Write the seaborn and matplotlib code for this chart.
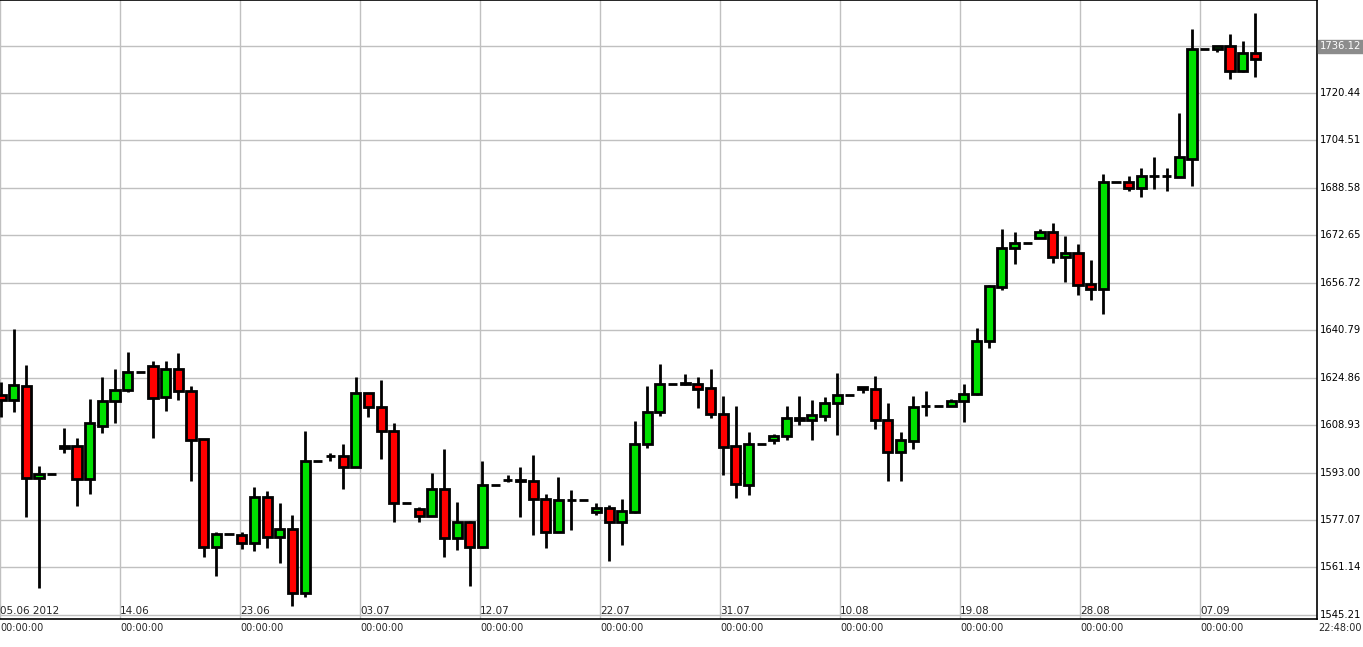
import matplotlib
matplotlib.use("Agg")
import matplotlib.pyplot as plt
import matplotlib.transforms as mtransforms
import numpy as np
import seaborn as sns

# daily OHLC
open_ = [1619.0, 1617.3, 1622.1, 1591.2, 1592.5, 1601.1, 1601.9, 1590.9, 1608.7, 1617.0,
         1620.6, 1626.7, 1628.7, 1618.3, 1627.7, 1620.4, 1604.1, 1568.0, 1572.4, 1571.9,
         1569.3, 1584.7, 1571.4, 1574.1, 1552.5, 1596.9, 1598.4, 1598.6, 1595.0, 1619.8,
         1615.1, 1607.1, 1582.9, 1580.7, 1578.3, 1587.4, 1571.1, 1576.4, 1568.0, 1588.7,
         1590.6, 1590.6, 1590.1, 1584.0, 1573.1, 1583.8, 1583.8, 1579.6, 1581.0, 1576.5,
         1579.8, 1602.7, 1613.2, 1622.6, 1622.6, 1622.6, 1621.4, 1612.7, 1601.9, 1588.7,
         1602.5, 1603.9, 1605.1, 1610.6, 1610.6, 1612.1, 1616.3, 1619.1, 1621.8, 1621.1,
         1610.6, 1600.0, 1603.7, 1615.2, 1615.4, 1615.4, 1616.9, 1619.2, 1637.2, 1655.3,
         1668.3, 1670.0, 1671.6, 1673.6, 1665.3, 1666.7, 1656.2, 1654.6, 1690.5, 1690.5,
         1688.4, 1692.4, 1692.4, 1692.1, 1698.3, 1735.2, 1735.2, 1736.2, 1727.8, 1733.7]
high = [1623.4, 1641.1, 1629.2, 1595.1, 1592.5, 1608.0, 1604.7, 1617.7, 1624.9, 1627.8,
        1633.6, 1626.7, 1630.3, 1630.3, 1633.2, 1621.9, 1604.4, 1573.2, 1572.4, 1573.2,
        1588.2, 1586.8, 1582.8, 1578.9, 1607.0, 1596.9, 1599.7, 1602.5, 1624.9, 1619.8,
        1624.0, 1609.7, 1582.9, 1581.3, 1592.9, 1601.0, 1583.2, 1576.7, 1596.7, 1588.7,
        1592.2, 1594.8, 1599.0, 1585.8, 1591.4, 1587.2, 1583.8, 1582.8, 1582.0, 1584.2,
        1610.4, 1622.0, 1629.5, 1622.6, 1626.2, 1625.2, 1627.8, 1618.6, 1615.2, 1606.7,
        1602.5, 1606.0, 1615.2, 1618.6, 1617.2, 1618.3, 1626.5, 1619.1, 1621.8, 1625.5,
        1616.2, 1606.5, 1618.6, 1620.2, 1615.4, 1617.8, 1622.6, 1641.4, 1655.9, 1674.9,
        1673.8, 1670.0, 1674.9, 1676.8, 1672.5, 1669.7, 1664.2, 1693.1, 1690.5, 1692.6,
        1695.3, 1698.9, 1695.3, 1713.8, 1741.9, 1735.2, 1736.2, 1740.3, 1738.0, 1747.2]
low = [1611.8, 1613.2, 1578.2, 1554.3, 1592.5, 1599.4, 1581.7, 1585.9, 1606.2, 1609.5,
       1619.9, 1626.7, 1604.7, 1613.5, 1617.5, 1590.3, 1564.5, 1558.2, 1572.4, 1567.3,
       1566.5, 1567.7, 1562.7, 1548.1, 1551.3, 1596.9, 1596.9, 1587.5, 1595.0, 1611.6,
       1597.6, 1576.4, 1582.9, 1576.4, 1578.3, 1564.5, 1566.9, 1554.9, 1567.7, 1588.7,
       1589.7, 1578.2, 1571.9, 1567.8, 1573.1, 1573.8, 1583.8, 1578.9, 1563.2, 1568.8,
       1579.4, 1601.3, 1612.0, 1622.6, 1622.4, 1614.5, 1611.3, 1592.3, 1584.6, 1585.3,
       1602.5, 1602.5, 1603.8, 1608.9, 1603.8, 1610.2, 1605.5, 1619.1, 1619.8, 1607.6,
       1590.3, 1590.1, 1601.0, 1612.0, 1615.4, 1615.4, 1610.1, 1619.0, 1634.8, 1654.3,
       1662.9, 1670.0, 1671.6, 1663.4, 1657.0, 1652.6, 1651.0, 1646.2, 1690.5, 1687.5,
       1685.6, 1688.2, 1687.5, 1692.1, 1689.2, 1735.2, 1734.0, 1725.1, 1727.4, 1725.6]
close = [1617.4, 1622.5, 1591.2, 1592.5, 1592.5, 1601.9, 1590.9, 1609.5, 1617.1, 1620.8,
         1626.7, 1626.7, 1618.1, 1627.7, 1620.3, 1603.8, 1568.0, 1572.4, 1572.4, 1569.3,
         1584.7, 1571.4, 1574.1, 1552.5, 1596.9, 1596.9, 1598.4, 1595.0, 1619.8, 1615.1,
         1607.1, 1582.9, 1582.9, 1578.3, 1587.4, 1571.1, 1576.4, 1568.0, 1588.7, 1588.7,
         1590.6, 1590.1, 1584.0, 1573.1, 1583.8, 1583.8, 1583.8, 1581.0, 1576.3, 1580.0,
         1602.7, 1613.2, 1622.6, 1622.6, 1623.0, 1621.1, 1612.7, 1601.7, 1589.1, 1602.5,
         1602.5, 1605.1, 1611.4, 1611.4, 1612.4, 1616.5, 1619.1, 1619.1, 1621.0, 1610.6,
         1600.0, 1604.0, 1615.1, 1615.2, 1615.4, 1616.9, 1619.4, 1637.3, 1655.6, 1668.5,
         1670.0, 1670.0, 1673.6, 1665.3, 1666.7, 1655.9, 1654.6, 1690.5, 1690.5, 1688.4,
         1692.5, 1692.4, 1692.4, 1698.8, 1735.2, 1735.2, 1736.2, 1727.8, 1733.7, 1731.7]

price_ticks = [1545.21, 1561.14, 1577.07, 1593.00, 1608.93, 1624.86, 1640.79,
               1656.72, 1672.65, 1688.58, 1704.51, 1720.44, 1736.23]
date_labels = ["05.06 2012", "14.06", "23.06", "03.07", "12.07", "22.07",
               "31.07", "10.08", "19.08", "28.08", "07.09"]
last_price = 1736.12

STEP = 12.67  # pixels per candle

sns.set_style("white")
plt.rcParams['font.family'] = ['DejaVu Sans']

fig = plt.figure(figsize=(13.63, 6.47), dpi=100)
ax = fig.add_axes([0, 28.5 / 647, 1317 / 1363, 1 - 28.5 / 647])

idx = np.arange(len(open_))
o = np.array(open_)
c = np.array(close)
h = np.array(high)
lo = np.array(low)
colors = np.where(c >= o, "#00e000", "#ff0000")

# grid
for p in price_ticks:
    ax.axhline(p, color="#c0c0c0", lw=1, zorder=0)
date_pos = [(px - 1) / STEP for px in range(0, 1201, 120)]
for x in date_pos:
    ax.axvline(x, color="#c0c0c0", lw=1, zorder=0)

ax.vlines(idx, lo, h, color="black", lw=2, zorder=2)
ax.bar(idx, np.abs(c - o), bottom=np.minimum(o, c), width=0.72, color=colors,
       edgecolor="black", linewidth=2, zorder=3)

ax.set_xlim(-1 / STEP, 1316 / STEP)
ax.set_ylim(1544.0, 1751.6)
ax.set_xticks([])
ax.set_yticks([])
ax.spines["left"].set_visible(False)
for s in ["top", "right", "bottom"]:
    ax.spines[s].set_color("black")
    ax.spines[s].set_linewidth(1.2)

# right price scale
for p in price_ticks:
    ax.text(1.002, p, f"{p:.2f}", transform=ax.get_yaxis_transform(),
            va="center", ha="left", fontsize=7.2, color="black", clip_on=False)
ax.text(1.002, last_price, f"{last_price:.2f}", transform=ax.get_yaxis_transform(),
        va="center", ha="left", fontsize=7.2, color="white", clip_on=False,
        bbox=dict(boxstyle="square,pad=0.15", fc="#8c8c8c", ec="#8c8c8c"))

# date axis
trans = mtransforms.blended_transform_factory(ax.transData, ax.transAxes)
for x, lab in zip(date_pos, date_labels):
    ax.text(x, 0.004, lab, transform=trans, ha="left", va="bottom", fontsize=7.5)
    ax.text(x, -0.008, "00:00:00", transform=trans, ha="left", va="top",
            fontsize=7, clip_on=False)
ax.text(1.001, -0.008, "22:48:00", transform=ax.transAxes, ha="left", va="top",
        fontsize=7, clip_on=False)

fig.savefig("out.png", dpi=100)
